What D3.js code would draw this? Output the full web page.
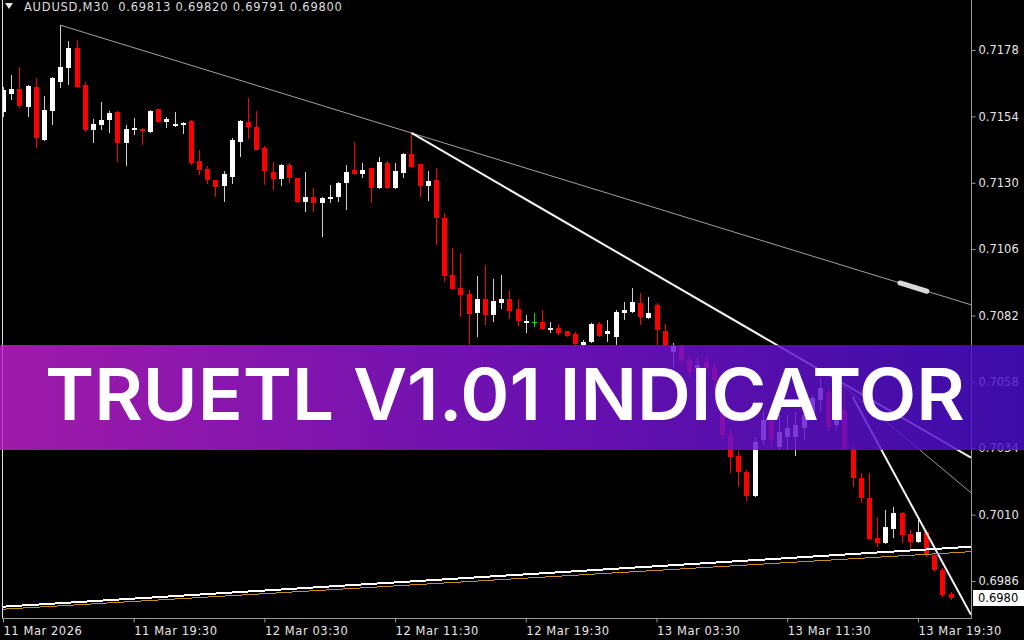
<!DOCTYPE html>
<html>
<head>
<meta charset="utf-8">
<script src="https://cdn.jsdelivr.net/npm/d3@7"></script>
<style>
  body { margin: 0; background: #000; overflow: hidden; }
</style>
</head>
<body>
<svg id="chart"></svg>
<script>
// chart header
const symbol = "AUDUSD";
const period = "M30";

// time axis labels and the bar index each one sits on
const timeLabels = ["11 Mar 2026", "11 Mar 19:30", "12 Mar 03:30", "12 Mar 11:30",
  "12 Mar 19:30", "13 Mar 03:30", "13 Mar 11:30", "13 Mar 19:30"];
const timeLabelBars = [0, 16, 32, 48, 64, 80, 96, 112];

// price axis labels
const priceTicks = [0.7178, 0.7154, 0.7130, 0.7106, 0.7082, 0.7058, 0.7034, 0.7010, 0.6986];

// M30 candles, 11 Mar 11:30 -> 13 Mar 21:30
const opens = [
  0.71556, 0.71621, 0.71639, 0.71574, 0.71646, 0.71455, 0.71560, 0.71664, 0.71715, 0.71787,
  0.71654, 0.71491, 0.71509, 0.71527, 0.71556, 0.71444, 0.71491, 0.71495, 0.71484, 0.71567,
  0.71520, 0.71505, 0.71509, 0.71523, 0.71379, 0.71350, 0.71310, 0.71289, 0.71321, 0.71448,
  0.71520, 0.71502, 0.71426, 0.71339, 0.71314, 0.71364, 0.71317, 0.71231, 0.71249, 0.71227,
  0.71242, 0.71249, 0.71299, 0.71346, 0.71332, 0.71354, 0.71281, 0.71372, 0.71281, 0.71335,
  0.71404, 0.71368, 0.71289, 0.71310, 0.71173, 0.70967, 0.70920, 0.70898, 0.70830, 0.70880,
  0.70822, 0.70866, 0.70880, 0.70844, 0.70793, 0.70797, 0.70797, 0.70768, 0.70775, 0.70764,
  0.70754, 0.70714, 0.70725, 0.70790, 0.70754, 0.70743, 0.70830, 0.70833, 0.70866, 0.70811,
  0.70858, 0.70764, 0.70689, 0.70707, 0.70660, 0.70631, 0.70652, 0.70631, 0.70587, 0.70389,
  0.70313, 0.70255, 0.70168, 0.70371, 0.70443, 0.70345, 0.70381, 0.70381, 0.70414, 0.70461,
  0.70515, 0.70544, 0.70425, 0.70479, 0.70338, 0.70233, 0.70161, 0.70016, 0.69998, 0.70049,
  0.70107, 0.70031, 0.70002, 0.70038, 0.69955, 0.69901, 0.69813
];
const highs = [
  0.71646, 0.71690, 0.71719, 0.71654, 0.71679, 0.71614, 0.71682, 0.71870, 0.71813, 0.71816,
  0.71664, 0.71531, 0.71592, 0.71560, 0.71560, 0.71509, 0.71534, 0.71498, 0.71563, 0.71567,
  0.71538, 0.71556, 0.71520, 0.71527, 0.71419, 0.71361, 0.71310, 0.71343, 0.71462, 0.71527,
  0.71607, 0.71560, 0.71433, 0.71375, 0.71368, 0.71372, 0.71317, 0.71339, 0.71281, 0.71249,
  0.71292, 0.71303, 0.71364, 0.71448, 0.71372, 0.71354, 0.71393, 0.71379, 0.71372, 0.71408,
  0.71480, 0.71368, 0.71343, 0.71354, 0.71191, 0.71064, 0.71046, 0.70913, 0.70963, 0.71003,
  0.70952, 0.70967, 0.70913, 0.70880, 0.70822, 0.70830, 0.70840, 0.70797, 0.70790, 0.70764,
  0.70761, 0.70732, 0.70793, 0.70797, 0.70804, 0.70840, 0.70869, 0.70920, 0.70902, 0.70887,
  0.70866, 0.70790, 0.70721, 0.70714, 0.70678, 0.70667, 0.70670, 0.70652, 0.70595, 0.70407,
  0.70331, 0.70262, 0.70381, 0.70472, 0.70461, 0.70461, 0.70461, 0.70472, 0.70497, 0.70533,
  0.70595, 0.70559, 0.70587, 0.70569, 0.70352, 0.70251, 0.70251, 0.70092, 0.70118, 0.70128,
  0.70110, 0.70045, 0.70081, 0.70045, 0.69962, 0.69908, 0.69820
];
const lows = [
  0.71538, 0.71599, 0.71570, 0.71538, 0.71426, 0.71451, 0.71509, 0.71643, 0.71654, 0.71643,
  0.71484, 0.71444, 0.71491, 0.71480, 0.71375, 0.71361, 0.71473, 0.71437, 0.71480, 0.71516,
  0.71498, 0.71502, 0.71476, 0.71364, 0.71328, 0.71296, 0.71249, 0.71231, 0.71296, 0.71393,
  0.71458, 0.71419, 0.71292, 0.71274, 0.71289, 0.71299, 0.71227, 0.71195, 0.71195, 0.71104,
  0.71227, 0.71231, 0.71202, 0.71328, 0.71317, 0.71227, 0.71278, 0.71278, 0.71278, 0.71317,
  0.71354, 0.71249, 0.71234, 0.71075, 0.70942, 0.70916, 0.70815, 0.70714, 0.70743, 0.70786,
  0.70797, 0.70844, 0.70808, 0.70783, 0.70757, 0.70779, 0.70768, 0.70757, 0.70750, 0.70743,
  0.70714, 0.70707, 0.70721, 0.70743, 0.70725, 0.70714, 0.70804, 0.70830, 0.70786, 0.70808,
  0.70714, 0.70707, 0.70634, 0.70642, 0.70595, 0.70605, 0.70613, 0.70551, 0.70371, 0.70251,
  0.70201, 0.70150, 0.70165, 0.70352, 0.70345, 0.70334, 0.70334, 0.70313, 0.70371, 0.70443,
  0.70472, 0.70400, 0.70407, 0.70334, 0.70201, 0.70143, 0.70009, 0.69984, 0.69995, 0.70016,
  0.69998, 0.69980, 0.69998, 0.69948, 0.69894, 0.69803, 0.69791
];
const closes = [
  0.71635, 0.71639, 0.71578, 0.71650, 0.71462, 0.71563, 0.71679, 0.71719, 0.71787, 0.71646,
  0.71491, 0.71513, 0.71527, 0.71552, 0.71444, 0.71495, 0.71498, 0.71487, 0.71560, 0.71520,
  0.71531, 0.71513, 0.71516, 0.71372, 0.71346, 0.71310, 0.71285, 0.71332, 0.71455, 0.71523,
  0.71502, 0.71419, 0.71343, 0.71314, 0.71364, 0.71317, 0.71231, 0.71249, 0.71227, 0.71245,
  0.71249, 0.71299, 0.71339, 0.71332, 0.71346, 0.71281, 0.71375, 0.71281, 0.71343, 0.71404,
  0.71357, 0.71289, 0.71307, 0.71173, 0.70963, 0.70916, 0.70895, 0.70826, 0.70880, 0.70822,
  0.70873, 0.70880, 0.70837, 0.70801, 0.70801, 0.70797, 0.70772, 0.70775, 0.70757, 0.70746,
  0.70718, 0.70725, 0.70790, 0.70746, 0.70764, 0.70833, 0.70840, 0.70869, 0.70815, 0.70830,
  0.70768, 0.70714, 0.70710, 0.70660, 0.70616, 0.70642, 0.70631, 0.70587, 0.70389, 0.70309,
  0.70255, 0.70168, 0.70363, 0.70443, 0.70371, 0.70400, 0.70414, 0.70425, 0.70461, 0.70522,
  0.70559, 0.70418, 0.70468, 0.70338, 0.70233, 0.70161, 0.70013, 0.69998, 0.70056, 0.70107,
  0.70027, 0.70002, 0.70038, 0.69955, 0.69901, 0.69810, 0.69800
];

// trend lines: [bar, price] anchor pairs, "extend" carries them to the right edge
const trendLines = [
  { a: [7, 0.71870], b: [50, 0.71480], extend: true, color: "#a0a0a0", w: 1 },
  { a: [50, 0.71480], b: [102, 0.70589], extend: true, color: "#f4f4f4", w: 2 },
  { a: [102, 0.70587], b: [118.5, 0.70179], extend: false, color: "#9a9a9a", w: 1 },
  { a: [104, 0.70526], b: [118.5, 0.69738], extend: false, color: "#f4f4f4", w: 2 },
  { a: [0, 0.69767], b: [118.5, 0.69984], extend: false, color: "#ffffff", w: 2 },
  { a: [0, 0.69758], b: [118.5, 0.69966], extend: false, color: "#c8901c", w: 1 }
];
// thick marker sitting on the first gray line
const markerBars = [109.8, 113.1];

const banner = "TRUETL V1.01 INDICATOR";

const width = 1024, height = 640;
const plotLeft = 3, plotRight = 971, plotBottom = 618;
const axisFont = "'DejaVu Sans', sans-serif";

const svg = d3.select("#chart")
  .attr("width", width)
  .attr("height", height);

svg.append("rect")
  .attr("width", width)
  .attr("height", height)
  .attr("fill", "#000");

const x = d3.scaleLinear().domain([0, 118.5]).range([plotLeft, plotRight]);
const y = d3.scaleLinear().domain([0.6986, 0.7178]).range([581, 50]);

// clip for the plot area
svg.append("clipPath").attr("id", "plotClip")
  .append("rect")
  .attr("x", plotLeft)
  .attr("y", 0)
  .attr("width", plotRight - plotLeft)
  .attr("height", plotBottom);

const plot = svg.append("g").attr("clip-path", "url(#plotClip)");

// candles
const bars = d3.range(opens.length).map(i => ({
  i, o: opens[i], h: highs[i], l: lows[i], c: closes[i]
}));
const candleColor = d => d.c > d.o ? "#ffffff" : (d.c < d.o ? "#ff0000" : "#00e000");
const wickColor = d => d.c > d.o ? "#cfcfcf" : (d.c < d.o ? "#ff0000" : "#00e000");

const candles = plot.selectAll(".candle")
  .data(bars)
  .enter()
  .append("g")
  .attr("class", "candle")
  .attr("shape-rendering", "crispEdges");

candles.append("line")
  .attr("x1", d => Math.round(x(d.i)) + 0.5)
  .attr("x2", d => Math.round(x(d.i)) + 0.5)
  .attr("y1", d => y(d.h))
  .attr("y2", d => y(d.l))
  .attr("stroke", wickColor)
  .attr("stroke-width", 1);

candles.append("rect")
  .attr("x", d => Math.round(x(d.i)) - 2)
  .attr("y", d => y(Math.max(d.o, d.c)))
  .attr("width", 5)
  .attr("height", d => Math.max(1, Math.abs(y(d.o) - y(d.c))))
  .attr("fill", candleColor);

// trend lines
const lineEnd = t => {
  if (!t.extend) return t.b;
  const slope = (t.b[1] - t.a[1]) / (t.b[0] - t.a[0]);
  const xEnd = x.domain()[1];
  return [xEnd, t.a[1] + slope * (xEnd - t.a[0])];
};

plot.selectAll(".trend")
  .data(trendLines)
  .enter()
  .append("line")
  .attr("class", "trend")
  .attr("x1", d => x(d.a[0]))
  .attr("y1", d => y(d.a[1]))
  .attr("x2", d => x(lineEnd(d)[0]))
  .attr("y2", d => y(lineEnd(d)[1]))
  .attr("stroke", d => d.color)
  .attr("stroke-width", d => d.w)
  .attr("shape-rendering", (d, i) => i >= 4 ? "crispEdges" : "auto");

// marker on the long gray line
const gray = trendLines[0];
const graySlope = (gray.b[1] - gray.a[1]) / (gray.b[0] - gray.a[0]);
plot.append("line")
  .attr("x1", x(markerBars[0]))
  .attr("y1", y(gray.a[1] + graySlope * (markerBars[0] - gray.a[0])))
  .attr("x2", x(markerBars[1]))
  .attr("y2", y(gray.a[1] + graySlope * (markerBars[1] - gray.a[0])))
  .attr("stroke", "#d8d8d8")
  .attr("stroke-width", 5)
  .attr("stroke-linecap", "round");

// frame
svg.append("line")
  .attr("x1", 2.5).attr("x2", 2.5)
  .attr("y1", 0).attr("y2", plotBottom)
  .attr("stroke", "#e0e0e0");

svg.append("line")
  .attr("x1", plotRight + 0.5).attr("x2", plotRight + 0.5)
  .attr("y1", 0).attr("y2", plotBottom + 0.5)
  .attr("stroke", "#9a9a9a");

svg.append("line")
  .attr("x1", 2).attr("x2", plotRight + 1)
  .attr("y1", plotBottom + 0.5).attr("y2", plotBottom + 0.5)
  .attr("stroke", "#9a9a9a");

// price axis
const yAxis = svg.append("g")
  .attr("transform", `translate(${plotRight + 0.5},0)`)
  .call(d3.axisRight(y).tickValues(priceTicks).tickFormat(d3.format(".4f")).tickSize(4).tickPadding(3));
yAxis.select(".domain").remove();
yAxis.selectAll("line").attr("stroke", "#9a9a9a");
yAxis.selectAll("text")
  .attr("fill", "#e6e6e6")
  .attr("font-size", 11.5)
  .style("font-family", axisFont);

// time axis
const xAxis = svg.append("g")
  .attr("transform", `translate(0,${plotBottom + 0.5})`)
  .call(d3.axisBottom(x).tickValues(timeLabelBars).tickFormat((d, i) => timeLabels[i]).tickSize(4).tickPadding(4));
xAxis.select(".domain").remove();
xAxis.selectAll("line").attr("stroke", "#9a9a9a");
xAxis.selectAll("text")
  .attr("text-anchor", "start")
  .attr("fill", "#e6e6e6")
  .attr("font-size", 11.5)
  .attr("letter-spacing", 0.55)
  .style("font-family", axisFont);

// current price box
const last = bars[bars.length - 1];
svg.append("rect")
  .attr("x", plotRight + 2)
  .attr("y", Math.round(y(last.c)) - 8)
  .attr("width", width - plotRight - 2)
  .attr("height", 16)
  .attr("fill", "#ffffff");
svg.append("text")
  .attr("x", plotRight + 7)
  .attr("y", y(last.c))
  .attr("dy", "0.36em")
  .attr("font-size", 11.5)
  .style("font-family", axisFont)
  .attr("fill", "#000")
  .text(last.c.toFixed(4));

// header
svg.append("path")
  .attr("d", "M5,3 L13,3 L9,9 Z")
  .attr("fill", "#e6e6e6");
svg.append("text")
  .attr("x", 24)
  .attr("y", 11)
  .attr("font-size", 11.5)
  .attr("letter-spacing", 0.75)
  .style("font-family", axisFont)
  .attr("fill", "#dcdcdc")
  .attr("xml:space", "preserve")
  .text(`${symbol},${period}  ${last.o.toFixed(5)} ${last.h.toFixed(5)} ${last.l.toFixed(5)} ${last.c.toFixed(5)}`);

// banner
const defs = svg.append("defs");
const grad = defs.append("linearGradient").attr("id", "bannerGrad");
grad.append("stop").attr("offset", "0%").attr("stop-color", "#c020cc");
grad.append("stop").attr("offset", "50%").attr("stop-color", "#8214d4");
grad.append("stop").attr("offset", "100%").attr("stop-color", "#480fca");

svg.append("rect")
  .attr("x", 0)
  .attr("y", 345)
  .attr("width", width)
  .attr("height", 105)
  .attr("fill", "url(#bannerGrad)")
  .attr("fill-opacity", 0.83);

svg.append("text")
  .attr("x", 45)
  .attr("y", 420)
  .style("font-family", "Inter, 'Noto Sans', sans-serif")
  .style("font-weight", 600)
  .attr("font-size", 72)
  .attr("fill", "#ffffff")
  .attr("textLength", 920)
  .attr("lengthAdjust", "spacingAndGlyphs")
  .text(banner);
</script>
</body>
</html>
